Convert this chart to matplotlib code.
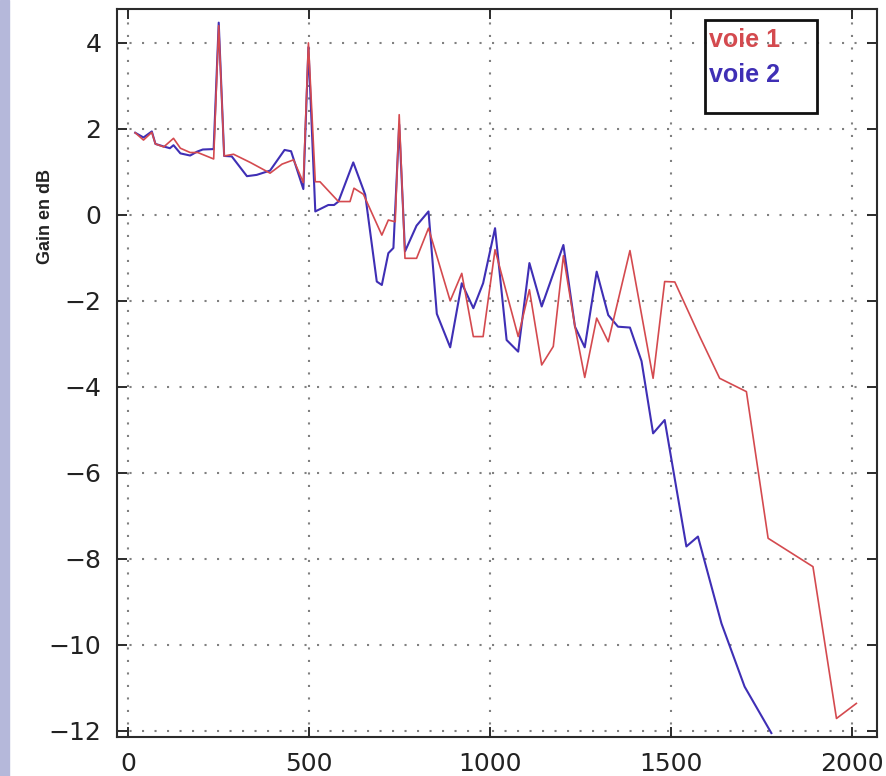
import matplotlib
matplotlib.use("Agg")
import matplotlib.pyplot as plt
from matplotlib.patches import Rectangle

RED  = "#d44a4f"
BLUE = "#3f2fb5"
GRID = "#808080"
EDGE = "#2b2b2b"

# voie 1 (red)
freq_1 = [19, 42, 65, 75, 98, 125, 144, 171, 192, 236, 250, 265, 291, 337, 392,
          425, 457, 484, 498, 517, 530, 581, 613, 624, 650, 701, 719, 738, 749,
          765, 797, 830, 890, 922, 954, 981, 1014, 1078, 1109, 1143, 1175, 1203,
          1235, 1262, 1295, 1327, 1387, 1451, 1483, 1511, 1580, 1635, 1709, 1769,
          1893, 1958, 2013]
gain_1 = [1.91, 1.74, 1.92, 1.65, 1.58, 1.78, 1.55, 1.45, 1.45, 1.30, 4.40, 1.37,
          1.41, 1.22, 0.97, 1.18, 1.28, 0.75, 4.00, 0.77, 0.77, 0.31, 0.31, 0.62,
          0.48, -0.47, -0.12, -0.16, 2.33, -1.01, -1.01, -0.31, -2.00, -1.36,
          -2.83, -2.83, -0.81, -2.83, -1.74, -3.49, -3.06, -0.95, -2.60, -3.78,
          -2.40, -2.95, -0.83, -3.80, -1.55, -1.56, -2.83, -3.80, -4.11, -7.52,
          -8.18, -11.71, -11.36]

# voie 2 (blue)
freq_2 = [19, 42, 65, 75, 98, 115, 125, 144, 171, 190, 206, 236, 250, 265, 286,
          328, 355, 392, 432, 450, 484, 498, 517, 553, 569, 581, 622, 655, 687,
          701, 719, 733, 749, 765, 797, 830, 853, 890, 922, 954, 981, 1014, 1046,
          1078, 1109, 1143, 1203, 1235, 1262, 1295, 1327, 1354, 1387, 1419, 1451,
          1483, 1543, 1575, 1640, 1704, 1778]
gain_2 = [1.91, 1.80, 1.94, 1.65, 1.59, 1.55, 1.62, 1.43, 1.38, 1.47, 1.52, 1.53,
          4.47, 1.37, 1.36, 0.90, 0.93, 1.03, 1.51, 1.48, 0.60, 3.90, 0.08, 0.23,
          0.23, 0.31, 1.22, 0.47, -1.55, -1.63, -0.89, -0.77, 2.10, -0.85, -0.25,
          0.08, -2.30, -3.08, -1.59, -2.17, -1.59, -0.31, -2.91, -3.18, -1.12,
          -2.13, -0.70, -2.60, -3.08, -1.32, -2.33, -2.60, -2.62, -3.40, -5.08,
          -4.77, -7.71, -7.48, -9.50, -10.97, -12.05]

x_ticks = [0, 500, 1000, 1500, 2000]
y_ticks = [-12, -10, -8, -6, -4, -2, 0, 2, 4]

fig = plt.figure(figsize=(8.87, 7.76), dpi=100)
fig.patches.append(Rectangle((0, 0), 9 / 887, 1, transform=fig.transFigure,
                             color="#b5b8da", zorder=0))
ax = fig.add_axes([0.1316, 0.0503, 0.8571, 0.9377])

ax.plot(freq_1, gain_1, color=RED, linewidth=1.2, label="voie 1", zorder=3)
ax.plot(freq_2, gain_2, color=BLUE, linewidth=1.5, label="voie 2", zorder=2)

ax.set_xlim(-32, 2070)
ax.set_ylim(-12.14, 4.78)
ax.set_xticks(x_ticks)
ax.set_yticks(y_ticks)
ax.grid(True, color=GRID, linestyle=(0, (1, 5)), linewidth=1.5)
ax.tick_params(direction="in", length=7, width=1.4, color=EDGE, labelsize=18,
               labelcolor="#222222", top=True, right=True, pad=11)
for sp in ax.spines.values():
    sp.set_color(EDGE)
    sp.set_linewidth(1.5)

ax.set_ylabel("Gain en dB", fontsize=13, fontweight="bold",
              family="Liberation Sans", color="#222222")
ax.yaxis.set_label_coords(-0.094, 0.715)
ax.yaxis.label.set_va("center")

leg = ax.legend(loc="upper left", bbox_to_anchor=(0.779, 0.975), frameon=False,
                handlelength=0, handletextpad=0, borderpad=0, borderaxespad=0,
                labelspacing=0.45, labelcolor="linecolor",
                prop={"family": "Liberation Sans", "weight": "bold", "size": 18})
for h in leg.legend_handles:
    h.set_visible(False)
ax.add_patch(Rectangle((0.774, 0.857), 0.147, 0.128, transform=ax.transAxes,
                       fill=False, edgecolor="#111111", linewidth=2, zorder=5))

fig.savefig("out.png", dpi=100)
